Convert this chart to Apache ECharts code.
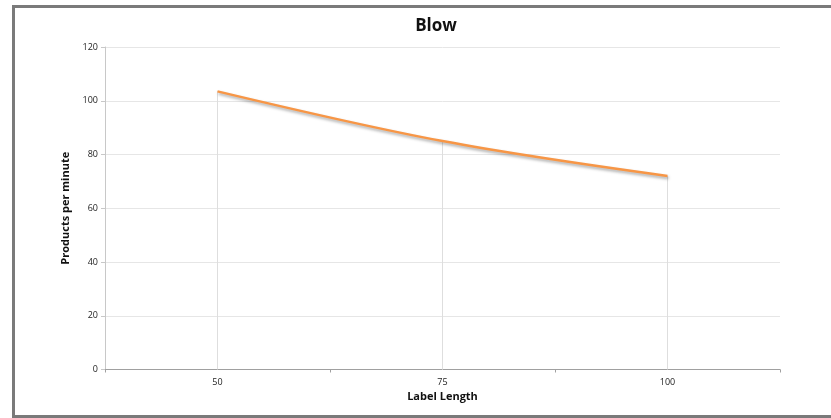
<!DOCTYPE html>
<html>
<head>
<meta charset="utf-8">
<script src="https://cdn.jsdelivr.net/npm/echarts@6/dist/echarts.min.js"></script>
<style>
html,body{margin:0;padding:0;background:#fff;width:831px;height:418px;overflow:hidden;}
.bd{position:absolute;background:#7a7a7a;}
#wrap{position:absolute;left:0;top:0;width:831px;height:418px;overflow:hidden;}
#chart{position:absolute;left:0;top:0;width:831px;height:418px;}
</style>
</head>
<body>
<div id="wrap">
<div class="bd" style="left:12px;top:5px;width:900px;height:3px;"></div>
<div class="bd" style="left:12px;top:5px;width:3px;height:413px;"></div>
<div class="bd" style="left:12px;top:415px;width:900px;height:3px;"></div>
<div id="chart"></div>
</div>
<script>
var title = "Blow";
var xAxisName = "Label Length";
var yAxisName = "Products per minute";
var categories = ["50", "75", "100"];
var values = [103.5, 85, 72];
var yMin = 0, yMax = 120, yStep = 20;

var chart = echarts.init(document.getElementById('chart'), null, {renderer: 'canvas'});
var font = "Open Sans, Liberation Sans, sans-serif";
chart.setOption({
  animation: false,
  backgroundColor: 'transparent',
  title: {
    text: title, left: 431, top: 13, textAlign: 'center',
    textStyle: {fontFamily: font, fontSize: 17, fontWeight: 'bold', color: '#111'}
  },
  grid: {left: 105, right: 51, top: 47, bottom: 48.5, containLabel: false},
  xAxis: {
    type: 'category', data: categories, boundaryGap: true,
    name: xAxisName, nameLocation: 'middle', nameGap: 18,
    nameTextStyle: {fontFamily: font, fontSize: 11, fontWeight: 'bold', color: '#111'},
    axisLine: {lineStyle: {color: '#a0a0a0', width: 1}},
    axisTick: {show: true, length: 3, lineStyle: {color: '#a0a0a0'}},
    axisLabel: {fontFamily: font, fontSize: 9, color: '#222', margin: 8},
    splitLine: {show: false}
  },
  yAxis: {
    type: 'value', min: yMin, max: yMax, interval: yStep,
    name: yAxisName, nameLocation: 'middle', nameGap: 33, nameRotate: 90,
    nameTextStyle: {fontFamily: font, fontSize: 11, fontWeight: 'bold', color: '#111'},
    axisLine: {show: true, lineStyle: {color: '#c8c8c8', width: 1}},
    axisTick: {show: true, length: 4, lineStyle: {color: '#c8c8c8'}},
    axisLabel: {fontFamily: font, fontSize: 9, color: '#222', margin: 7},
    splitLine: {show: true, lineStyle: {color: '#e6e6e6', width: 1}}
  },
  series: [
    {
      type: 'bar', data: values, barWidth: 1, silent: true,
      itemStyle: {color: '#dedede'}, z: 1
    },
    {
      type: 'line', data: values, smooth: 0.35, symbol: 'none', z: 3,
      lineStyle: {color: '#F79646', width: 2.5, shadowColor: 'rgba(0,0,0,0.35)', shadowBlur: 3, shadowOffsetY: 2, shadowOffsetX: 1}
    }
  ]
});
</script>
</body>
</html>
